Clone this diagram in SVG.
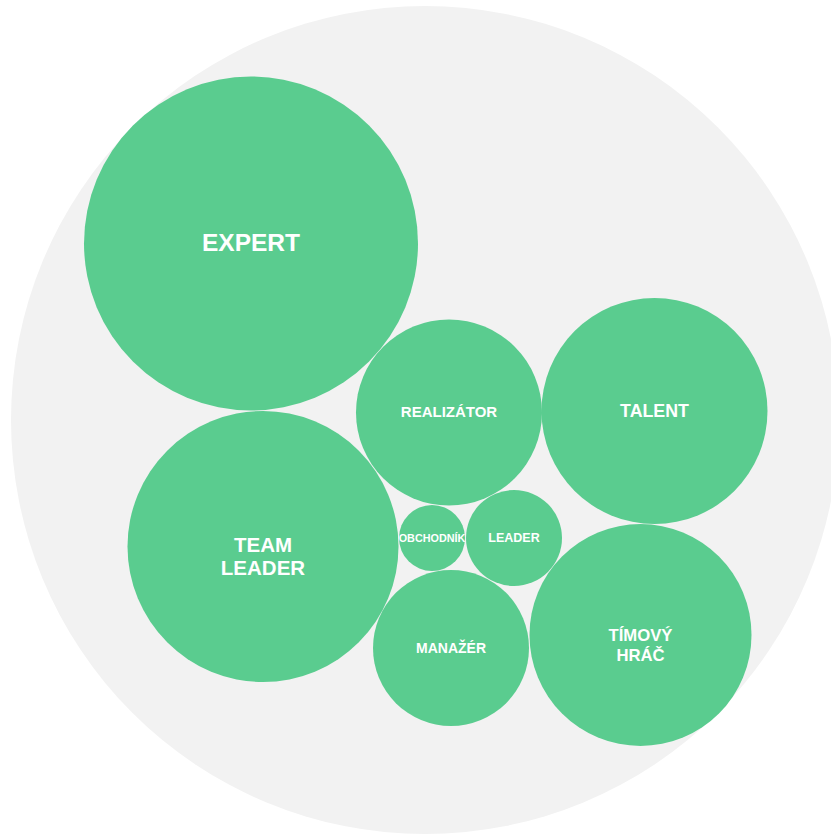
<svg xmlns="http://www.w3.org/2000/svg" width="831" height="834" viewBox="0 0 831 834">
<style>
.bg{fill:#f2f2f2}
.n{fill:#5acc8f}
.t{fill:#ffffff;font-family:"Liberation Sans",Arial,sans-serif;font-weight:bold;text-anchor:middle}
</style>
<rect width="831" height="834" fill="#ffffff"/>
<circle class="bg" cx="425" cy="420" r="414"/>
<g id="expert"><circle class="n" cx="251" cy="243.5" r="167"/><text class="t" x="251" y="251" font-size="24.5">EXPERT</text></g>
<g id="realizator"><circle class="n" cx="449" cy="412.5" r="93"/><text class="t" x="449" y="417" font-size="15">REALIZÁTOR</text></g>
<g id="talent"><circle class="n" cx="654.5" cy="411" r="113"/><text class="t" x="654.5" y="416.5" font-size="17.8">TALENT</text></g>
<g id="teamleader"><circle class="n" cx="263" cy="546.5" r="135.5"/><text class="t" font-size="20.5"><tspan x="263" y="551.5">TEAM</tspan><tspan x="263" y="575">LEADER</tspan></text></g>
<g id="obchodnik"><circle class="n" cx="432" cy="538" r="33"/><text class="t" x="432" y="541.5" font-size="10.8">OBCHODNÍK</text></g>
<g id="leader"><circle class="n" cx="514" cy="538" r="48"/><text class="t" x="514" y="542" font-size="12.5">LEADER</text></g>
<g id="manazer"><circle class="n" cx="451" cy="648" r="78"/><text class="t" x="451" y="652.5" font-size="14">MANAŽÉR</text></g>
<g id="timovyhrac"><circle class="n" cx="640.5" cy="635" r="111"/><text class="t" font-size="16.7"><tspan x="640.5" y="641">TÍMOVÝ</tspan><tspan x="640.5" y="661">HRÁČ</tspan></text></g>
<g id="connectors"/>
</svg>
